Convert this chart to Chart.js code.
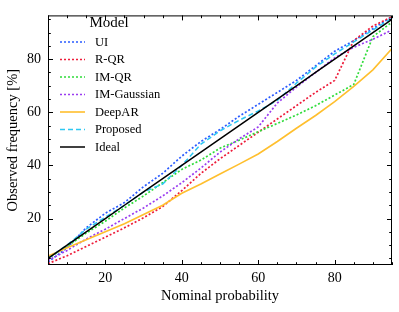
<!DOCTYPE html>
<html><head><meta charset="utf-8">
<script src="https://cdn.jsdelivr.net/npm/chart.js@4/dist/chart.umd.min.js"></script>
<style>html,body{margin:0;padding:0;background:#fff}</style>
</head><body>
<canvas id="c" width="399" height="312"></canvas>
<script>
const nominal   = [5,10,15,20,25,30,35,40,45,50,55,60,65,70,75,80,85,90,95];
const ui        = [3.6,9,16.5,22,26,32,37,43.5,49,53.5,58.5,63,67.5,72,77.5,83,87,91.5,96];
const rqr       = [3,6,9.5,13,16.5,20.3,24.5,30.5,37,42.5,47.5,52.5,57.5,62.5,67.5,72,87,92.5,96];
const imqr      = [5,9.5,14.5,19,24,28.5,33.5,38.5,42,46.5,49.5,52.7,55.8,59,62.5,66.5,70.5,88.5,94];
const imgauss   = [4.2,8,12.3,16,20,24,28.5,33.5,39,45,50,54.5,63.5,69.5,75,80.5,84.5,87.5,91];
const deepar    = [5.8,9,12,15,18,21.5,25,29.5,33,36.8,40.5,44.3,49,54,58.8,64,69.8,76,84];
const proposed  = [5,10,16,20.5,25,30,33,40,48,53,57,60.5,64.5,71,77,82,86.5,91,95.5];
const ideal     = [5,10,15,20,25,30,35,40,45,50,55,60,65,70,75,80,85,90,95];
const seriesLabels = ['UI','R-QR','IM-QR','IM-Gaussian','DeepAR','Proposed','Ideal'];
const xTickLabels = [20,40,60,80];
const yTickLabels = [20,40,60,80];

const FONT = '"Liberation Serif", "Times New Roman", serif';
const colors = ['#2b5cff','#ee1c3a','#2fdc3a','#9a3cf0','#ffbf2e','#2ec8f2','#000000'];
const dashes = [[2,2],[2,2],[2,2],[2,2],[],[5,3],[]];
const widths = [1.7,1.7,1.7,1.7,1.6,1.5,1.5];
const values = [ui,rqr,imqr,imgauss,deepar,proposed,ideal];

const datasets = seriesLabels.map((lab,i)=>({
  label: lab,
  data: nominal.map((x,j)=>({x:x,y:values[i][j]})),
  borderColor: colors[i],
  backgroundColor: colors[i],
  borderDash: dashes[i],
  borderWidth: widths[i],
  pointRadius: 0,
  tension: 0,
  fill: false,
  order: seriesLabels.length - i
}));

const decor = {
  id: 'decor',
  afterDatasetsDraw(chart) {
    const ctx = chart.ctx, a = chart.chartArea;
    const xs = chart.scales.x, ys = chart.scales.y;
    ctx.save();
    ctx.strokeStyle = '#000'; ctx.lineWidth = 1; ctx.setLineDash([]);
    ctx.strokeRect(a.left+0.5, a.top+0.5, a.right-a.left-1, a.bottom-a.top-1);
    ctx.beginPath();
    for (let v = 5; v <= 95; v += 5) {
      const L = (v % 20 === 0) ? 5 : 2.8;
      const px = Math.round(xs.getPixelForValue(v)) + 0.5;
      ctx.moveTo(px, a.bottom); ctx.lineTo(px, a.bottom - L);
      ctx.moveTo(px, a.top); ctx.lineTo(px, a.top + L);
      const py = Math.round(ys.getPixelForValue(v)) + 0.5;
      if (py > a.top && py < a.bottom) {
        ctx.moveTo(a.left, py); ctx.lineTo(a.left + L, py);
        ctx.moveTo(a.right, py); ctx.lineTo(a.right - L, py);
      }
    }
    ctx.stroke();
    // legend
    ctx.fillStyle = '#000';
    ctx.font = '15px ' + FONT;
    ctx.textAlign = 'center'; ctx.textBaseline = 'middle';
    ctx.fillText('Model', 109, 23.5);
    ctx.textAlign = 'left';
    ctx.font = '12.5px ' + FONT;
    chart.data.datasets.forEach((d,i)=>{
      const y = 42 + i*17.5;
      ctx.save();
      ctx.strokeStyle = d.borderColor; ctx.lineWidth = d.borderWidth;
      ctx.setLineDash(d.borderDash);
      ctx.beginPath(); ctx.moveTo(60, y); ctx.lineTo(85, y); ctx.stroke();
      ctx.restore();
      ctx.fillText(d.label, 95, y + 0.5);
    });
    ctx.restore();
  }
};

new Chart(document.getElementById('c'), {
  type: 'line',
  data: { datasets: datasets },
  plugins: [decor],
  options: {
    responsive: false,
    animation: false,
    layout: { padding: { top: 6, right: 7, left: 0, bottom: 0 } },
    plugins: { legend: { display: false }, tooltip: { enabled: false } },
    scales: {
      x: {
        type: 'linear', min: 5, max: 95,
        afterBuildTicks: s => { s.ticks = xTickLabels.map(v=>({value:v})); },
        afterFit: s => { s.height = 47; },
        grid: { display: false, drawTicks: false },
        border: { display: false },
        ticks: { color: '#000', padding: 5, font: { family: FONT, size: 14 } },
        title: { display: true, text: 'Nominal probability', color: '#000',
                 font: { family: FONT, size: 14.5 }, padding: { top: 0, bottom: 7 } }
      },
      y: {
        type: 'linear', min: 2.5, max: 96.5,
        afterBuildTicks: s => { s.ticks = yTickLabels.map(v=>({value:v})); },
        afterFit: s => { s.width = 48; },
        grid: { display: false, drawTicks: false },
        border: { display: false },
        ticks: { color: '#000', padding: 7, font: { family: FONT, size: 14 } },
        title: { display: true, text: 'Observed frequency [%]', color: '#000',
                 font: { family: FONT, size: 14.5 }, padding: { top: 4, bottom: 4 } }
      }
    }
  }
});
</script>
</body></html>
